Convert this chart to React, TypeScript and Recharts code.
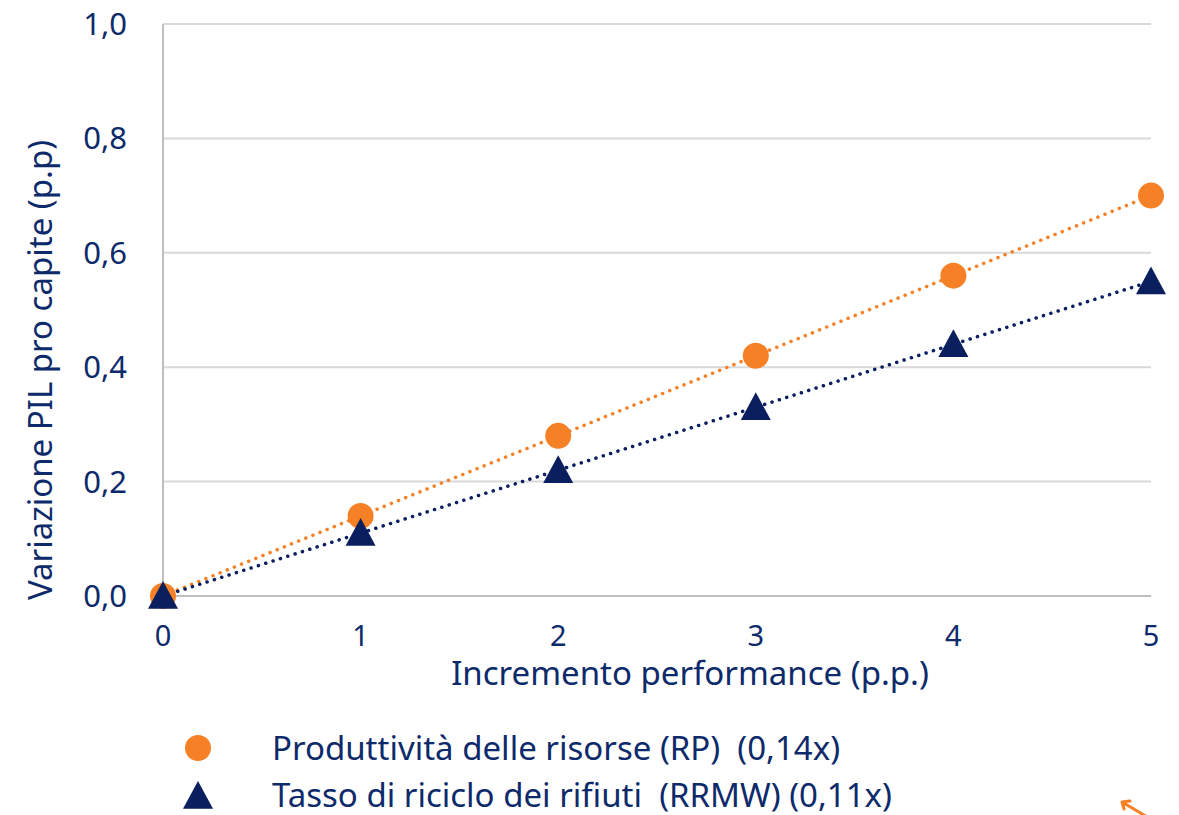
import React from 'react';
import { CartesianGrid, ComposedChart, Line, XAxis, YAxis } from 'recharts';

const performance = [0, 1, 2, 3, 4, 5];
const rpValues = [0, 0.14, 0.28, 0.42, 0.56, 0.7];
const rrmwValues = [0, 0.11, 0.22, 0.33, 0.44, 0.55];
const yTicks = [0, 0.2, 0.4, 0.6, 0.8, 1.0];
const seriesNames = ['Produttività delle risorse (RP)  (0,14x)', 'Tasso di riciclo dei rifiuti  (RRMW) (0,11x)'];
const xTitle = 'Incremento performance (p.p.)';
const yTitle = 'Variazione PIL pro capite (p.p)';

const data = performance.map((x, i) => ({ x, rp: rpValues[i], rrmw: rrmwValues[i] }));

const ORANGE = '#F58025';
const NAVY = '#0B1F5E';
const TEXT = '#0D2A6B';
const FONT = '"Noto Sans", sans-serif';

const Circle = (props: any) => {
	const { cx, cy } = props;
	if (cx == null || cy == null) return null;
	return <circle cx={cx} cy={cy} r={13} fill={ORANGE} />;
};

const Triangle = (props: any) => {
	const { cx, cy } = props;
	if (cx == null || cy == null) return null;
	const s = 15;
	return <polygon points={`${cx},${cy - s} ${cx + s},${cy + s * 0.85} ${cx - s},${cy + s * 0.85}`} fill={NAVY} />;
};

const XTitle = ({ viewBox }: any) => {
	const { x, y, width } = viewBox;
	return (
		<text x={x + width / 2 + 33} y={y + 89} textAnchor='middle' fill={TEXT} fontSize={33} fontFamily={FONT}>
			{xTitle}
		</text>
	);
};

const YTitle = ({ viewBox }: any) => {
	const { x, y, height } = viewBox;
	const cx = x + 44;
	const cy = y + height / 2 + 60;
	return (
		<text x={cx} y={cy} transform={`rotate(-90, ${cx}, ${cy})`} textAnchor='middle' fill={TEXT} fontSize={33} fontFamily={FONT}>
			{yTitle}
		</text>
	);
};

// legend drawn by hand under the plot
const LegendBox = () => (
	<div style={{ position: 'absolute', left: 170, top: 724, fontFamily: FONT, fontSize: 33, color: TEXT }}>
		{seriesNames.map((name, i) => (
			<div key={name} style={{ display: 'flex', alignItems: 'center', height: 47 }}>
				<svg width={40} height={40} style={{ marginRight: 54 }}>
					{i === 0 ? <Circle cx={20} cy={20} /> : <Triangle cx={20} cy={21} />}
				</svg>
				<span style={{ whiteSpace: 'pre' }}>{name}</span>
			</div>
		))}
	</div>
);

const App = () => {
	return (
		<div style={{ position: 'relative', width: 1171, height: 815, marginTop: -8 }}>
			<ComposedChart width={1171} height={815} data={data} margin={{ top: 24, right: 28, left: 0, bottom: 0 }}>
				<CartesianGrid vertical={false} stroke='#D9D9D9' strokeWidth={2} />
				<XAxis
					dataKey='x'
					type='number'
					domain={[0, 5]}
					ticks={performance}
					tickLine={false}
					axisLine={{ stroke: '#BFBFBF', strokeWidth: 2 }}
					tick={{ fill: TEXT, fontSize: 29, fontFamily: FONT }}
					tickMargin={23}
					height={219}
					label={<XTitle />}
				/>
				<YAxis
					domain={[0, 1]}
					ticks={yTicks}
					tickLine={false}
					axisLine={{ stroke: '#BFBFBF', strokeWidth: 2 }}
					tick={{ fill: TEXT, fontSize: 31, fontFamily: FONT }}
					tickFormatter={(v: number) => v.toFixed(1).replace('.', ',')}
					tickMargin={30}
					width={155}
					label={<YTitle />}
				/>
				<Line
					dataKey='rp'
					name={seriesNames[0]}
					stroke={ORANGE}
					strokeWidth={3.5}
					strokeDasharray='0.1 7.6'
					strokeLinecap='round'
					dot={<Circle />}
					activeDot={false}
					isAnimationActive={false}
				/>
				<Line
					dataKey='rrmw'
					name={seriesNames[1]}
					stroke={NAVY}
					strokeWidth={3.5}
					strokeDasharray='0.1 7.6'
					strokeLinecap='round'
					dot={<Triangle />}
					activeDot={false}
					isAnimationActive={false}
				/>
			</ComposedChart>
			<LegendBox />
			<svg width={60} height={20} style={{ position: 'absolute', left: 1106, top: 795 }}>
				<path d='M8 7 L40 26 M8 7 L10 14 M8 7 L16 6' stroke={ORANGE} strokeWidth={3} fill='none' strokeLinecap='round' />
			</svg>
		</div>
	);
};

export default App;
